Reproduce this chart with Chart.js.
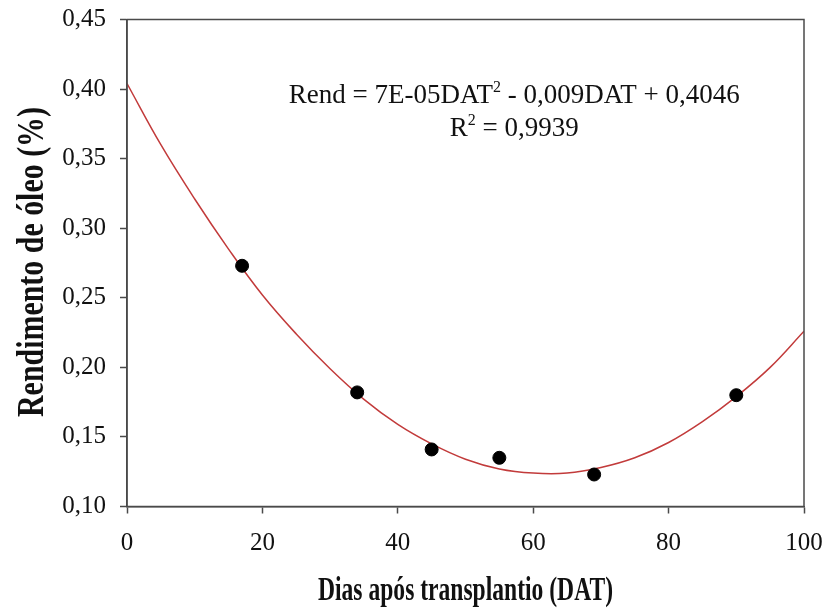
<!DOCTYPE html>
<html>
<head>
<meta charset="utf-8">
<script src="https://cdn.jsdelivr.net/npm/chart.js@4.4.1/dist/chart.umd.min.js"></script>
<style>
html,body{margin:0;padding:0;background:#fff;}
#wrap{width:826px;height:610px;position:relative;}
</style>
</head>
<body>
<div id="wrap"><canvas id="c" width="826" height="610"></canvas></div>
<script>
// Observed data points (DAT, oil yield %)
const obsDays = [17, 34, 45, 55, 69, 90];
const obsYield = [0.273, 0.182, 0.141, 0.135, 0.123, 0.180];
// Trend curve
const curveDays = [0, 5, 10, 15, 20, 25, 30, 35, 40, 45, 50, 55, 60, 65, 70, 75, 80, 85, 90, 95, 100];
const curveYield = [0.404, 0.360, 0.321, 0.285, 0.252, 0.224, 0.199, 0.177, 0.159, 0.145, 0.134, 0.127, 0.124, 0.124, 0.128, 0.135, 0.146, 0.161, 0.179, 0.200, 0.226];
const xTicks = [0, 20, 40, 60, 80, 100];
const yTicks = [0.10, 0.15, 0.20, 0.25, 0.30, 0.35, 0.40, 0.45];
const eqMain = "Rend = 7E-05DAT";
const eqSup = "2";
const eqRest = " - 0,009DAT + 0,4046";
const r2Main = "R";
const r2Rest = " = 0,9939";
const xTitle = "Dias após transplantio (DAT)";
const yTitle = "Rendimento de óleo (%)";

const axisColor = '#4a4a4a';
const serif = "'Liberation Serif', 'Times New Roman', serif";

function drawSupLine(ctx, parts, cx, baseY, size) {
  let total = 0;
  const widths = parts.map(([t, sup]) => {
    ctx.font = (sup ? Math.round(size * 0.6) : size) + "px " + serif;
    const w = ctx.measureText(t).width;
    total += w;
    return w;
  });
  let x = cx - total / 2;
  parts.forEach(([t, sup], i) => {
    ctx.font = (sup ? Math.round(size * 0.6) : size) + "px " + serif;
    ctx.fillText(t, x, sup ? baseY - size * 0.42 : baseY);
    x += widths[i];
  });
}

function drawScaledText(ctx, text, cx, cy, size, targetW, rotate) {
  ctx.save();
  ctx.font = "bold " + size + "px " + serif;
  const w = ctx.measureText(text).width;
  ctx.translate(cx, cy);
  if (rotate) ctx.rotate(-Math.PI / 2);
  ctx.scale(targetW / w, 1);
  ctx.textAlign = 'center';
  ctx.textBaseline = 'alphabetic';
  ctx.fillText(text, 0, 0);
  ctx.restore();
}

const boxPlugin = {
  id: 'boxPlugin',
  afterDraw(chart) {
    const a = chart.chartArea, ctx = chart.ctx;
    ctx.save();
    ctx.strokeStyle = axisColor;
    ctx.lineWidth = 1.5;
    ctx.strokeRect(a.left, a.top, a.right - a.left, a.bottom - a.top);
    ctx.fillStyle = '#111';
    ctx.textAlign = 'left';
    ctx.textBaseline = 'alphabetic';
    const cx = chart.scales.x.getPixelForValue(57.2);
    drawSupLine(ctx, [[eqMain, false], [eqSup, true], [eqRest, false]], cx, chart.scales.y.getPixelForValue(0.390), 27);
    drawSupLine(ctx, [[r2Main, false], [eqSup, true], [r2Rest, false]], cx, chart.scales.y.getPixelForValue(0.3663), 27);
    drawScaledText(ctx, xTitle, 465.5, 600, 34, 295, false);
    drawScaledText(ctx, yTitle, 43, 262, 37, 310, true);
    ctx.restore();
  }
};

new Chart(document.getElementById('c'), {
  type: 'scatter',
  data: {
    datasets: [
      {
        type: 'line',
        data: curveDays.map((d, i) => ({x: d, y: curveYield[i]})),
        borderColor: '#c23b3b',
        borderWidth: 1.5,
        pointRadius: 0,
        tension: 0.4,
        fill: false,
        order: 2
      },
      {
        data: obsDays.map((d, i) => ({x: d, y: obsYield[i]})),
        backgroundColor: '#000',
        borderColor: '#000',
        pointRadius: 6.5,
        order: 1
      }
    ]
  },
  options: {
    responsive: false,
    animation: false,
    layout: {padding: {top: 19.5, right: 22, left: 0, bottom: 0}},
    plugins: {legend: {display: false}, tooltip: {enabled: false}},
    scales: {
      x: {
        type: 'linear', min: 0, max: 100,
        afterBuildTicks: s => { s.ticks = xTicks.map(v => ({value: v})); },
        afterFit: s => { s.height = 103.5; s.paddingLeft = 0; s.paddingRight = 0; },
        grid: {drawOnChartArea: false, tickLength: 7, tickColor: axisColor, tickWidth: 1.5},
        border: {display: true, color: axisColor, width: 1.5},
        ticks: {color: '#111', font: {family: serif, size: 25}, padding: 15}
      },
      y: {
        type: 'linear', min: 0.10, max: 0.45,
        afterBuildTicks: s => { s.ticks = yTicks.map(v => ({value: v})); },
        afterFit: s => { s.width = 127; s.paddingTop = 0; s.paddingBottom = 0; },
        grid: {drawOnChartArea: false, tickLength: 7, tickColor: axisColor, tickWidth: 1.5},
        border: {display: true, color: axisColor, width: 1.5},
        ticks: {color: '#111', font: {family: serif, size: 25}, padding: 14,
          callback: v => v.toFixed(2).replace('.', ',')}
      }
    }
  },
  plugins: [boxPlugin]
});
</script>
</body>
</html>
